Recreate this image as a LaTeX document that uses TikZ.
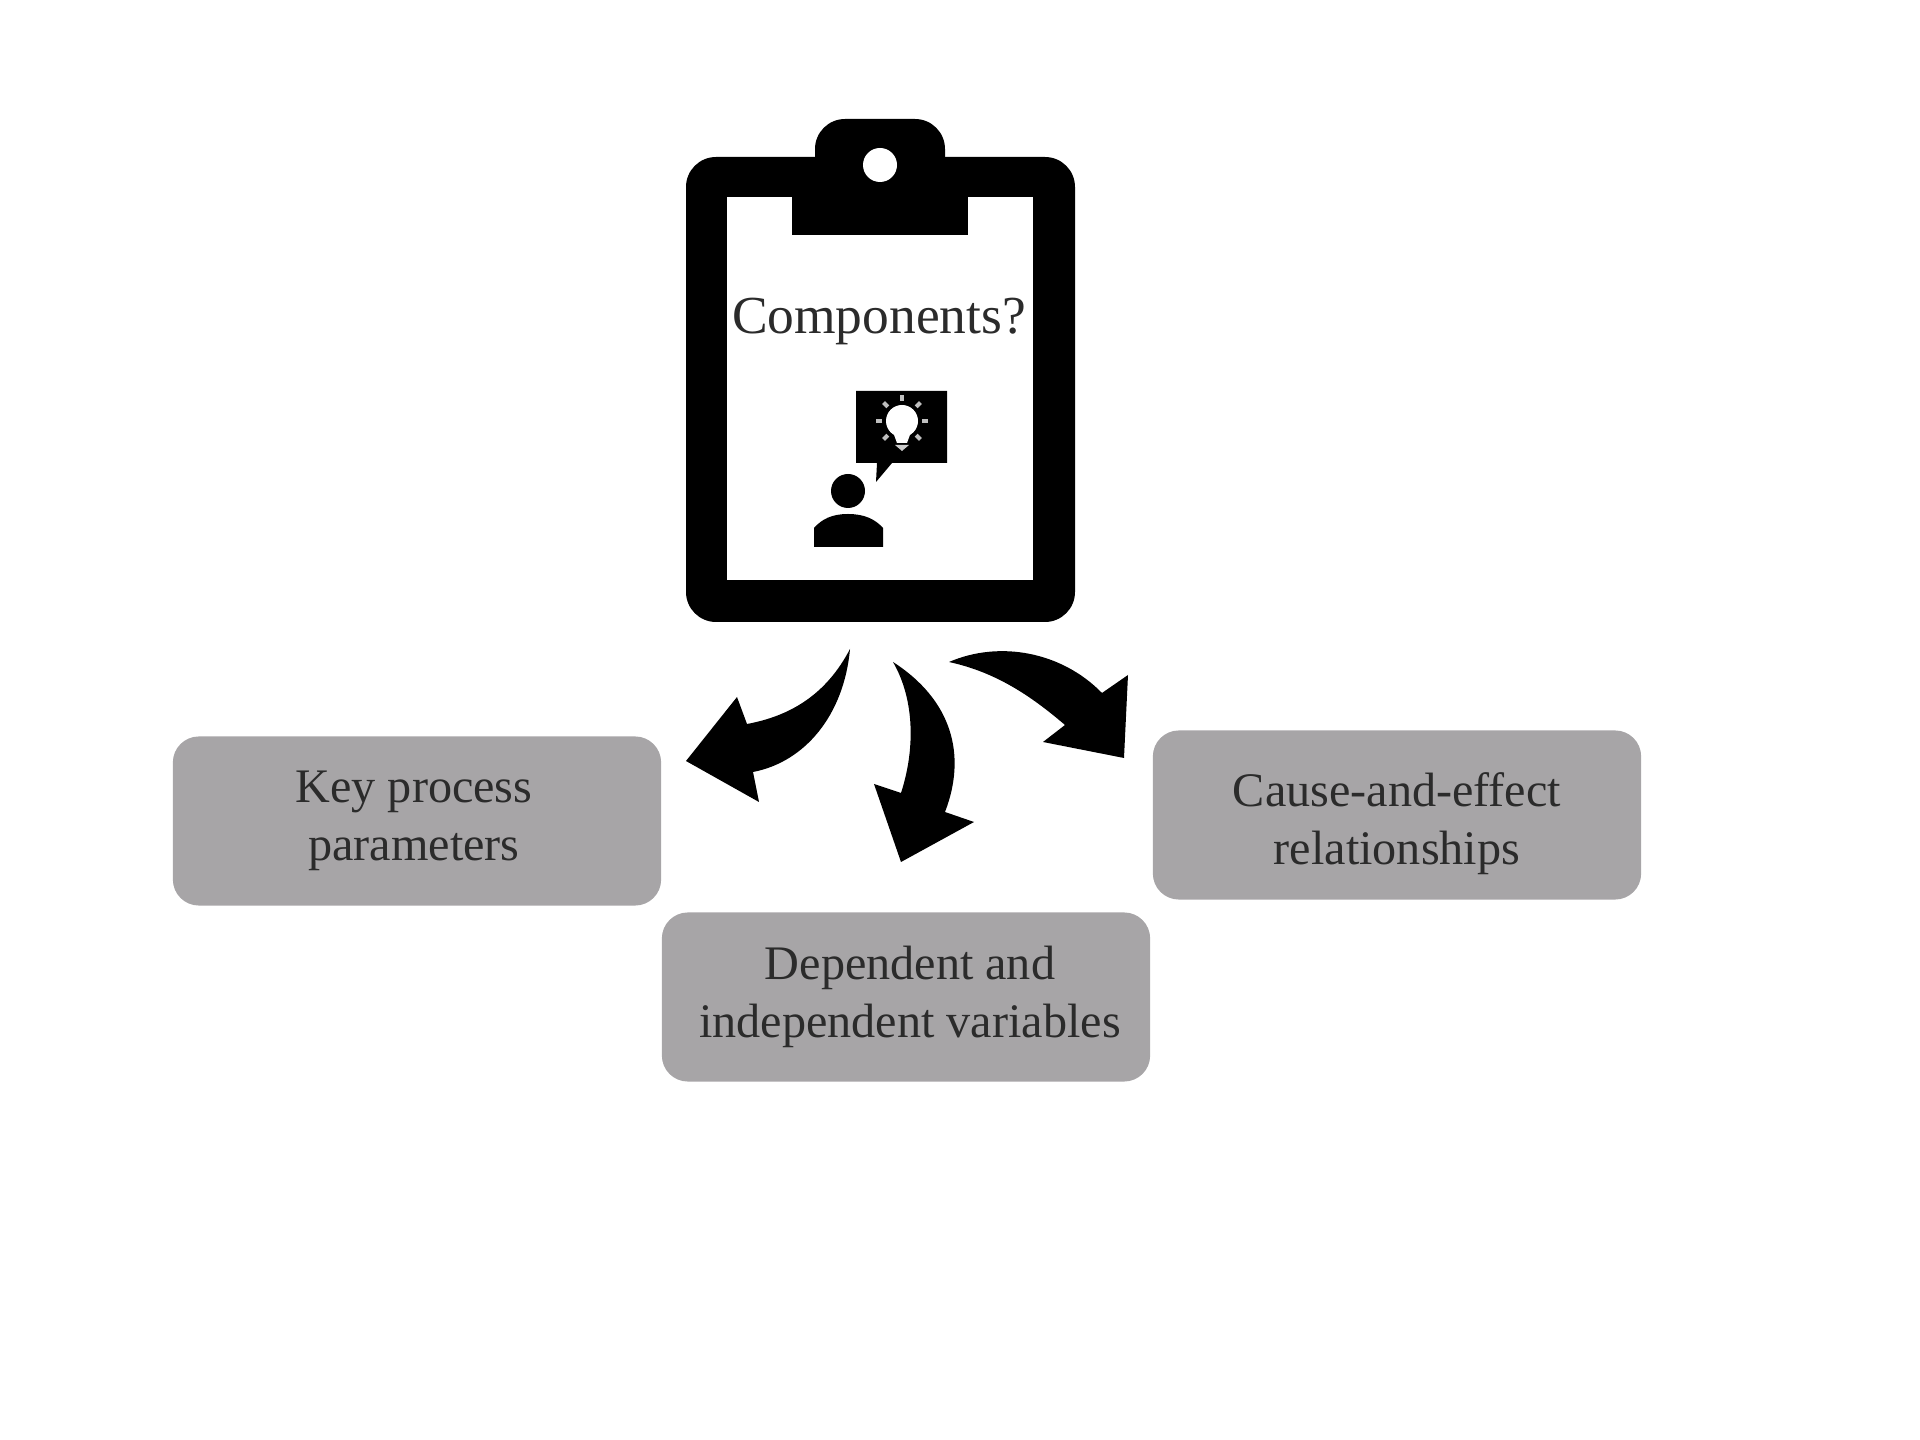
\documentclass[tikz,border=0pt]{standalone}
\usepackage{fontspec}
\setmainfont{Liberation Serif}
\definecolor{boxgray}{HTML}{A7A5A7}
\definecolor{inkgray}{HTML}{2B2B2B}
\tikzset{
  graybox/.style={fill=boxgray,rounded corners=0.26cm,minimum width=4.88cm,minimum height=1.69cm},
  boxtext/.style={align=center,text=inkgray,font=\fontsize{13.7}{16.4}\selectfont},
  curvedarrow/.style={fill=black,draw=none}
}
\begin{document}
\begin{tikzpicture}[x=0.01cm,y=-0.01cm]
\useasboundingbox (0,0) rectangle (1920,1440);

% Clipboard
\fill[black,rounded corners=0.3cm] (686,157) rectangle (1075,622);
\fill[black,rounded corners=0.3cm] (815,119) rectangle (945,200);
\fill[white] (727,197) rectangle (1033,580);
\fill[black] (792,190) rectangle (968,235);
\fill[white] (880,165) circle (17);
\node[font=\fontsize{15.2}{18}\selectfont,text=inkgray,inner sep=0pt,anchor=base] (question) at (879,334) {Components?};

% Speech bubble with bulb
\fill[black] (856,391) -- (947,391) -- (947,463) -- (892,463) -- (876,482) -- (877,463) -- (856,463) -- cycle;
\fill[white] (902,421) circle (16);
\fill[white] (893,432) -- (911,432) -- (907,443) -- (897,443) -- cycle;
\fill[white!80!black] (895,445) -- (909,445) -- (902,451) -- cycle;
\foreach \a in {0,45,135,180,225,270,315} {
  \draw[white!75!black,line width=0.04cm] (902,421)++(\a:20) -- ++(\a:6);
}

% Person
\fill[black] (848,491) circle (17);
\fill[black] (814,547) -- (814,528) .. controls (822,519) and (832,514) .. (848,514)
  .. controls (864,514) and (875,519) .. (883,528) -- (883,547) -- cycle;

% Gray boxes
\node[graybox] (params) at (417,821) {};
\node[boxtext] (paramstext) at ([xshift=-0.03cm]params.center) {Key process\\parameters};
\node[graybox] (variables) at (906,997) {};
\node[boxtext] (variablestext) at ([xshift=0.04cm]variables.center) {Dependent and\\independent variables};
\node[graybox] (relations) at (1397,815) {};
\node[boxtext] (relationstext) at ([yshift=-0.09cm]relations.center) {Cause-and-effect\\relationships};

% Curved block arrows
\fill[curvedarrow] (850,649) .. controls (826,695) and (790,716) .. (747,724) -- (737,697) -- (686,761)
  -- (759,802) -- (753,772) .. controls (805,762) and (844,715) .. cycle;
\fill[curvedarrow] (893,662) .. controls (915,700) and (915,750) .. (901,793) -- (874,784) -- (901,862)
  -- (974,822) -- (945,812) .. controls (967,755) and (952,700) .. cycle;
\fill[curvedarrow] (949,662) .. controls (1000,640) and (1062,652) .. (1102,693) -- (1128,675) -- (1124,758)
  -- (1043,742) -- (1065,725) .. controls (1030,695) and (995,672) .. cycle;
\end{tikzpicture}
\end{document}
